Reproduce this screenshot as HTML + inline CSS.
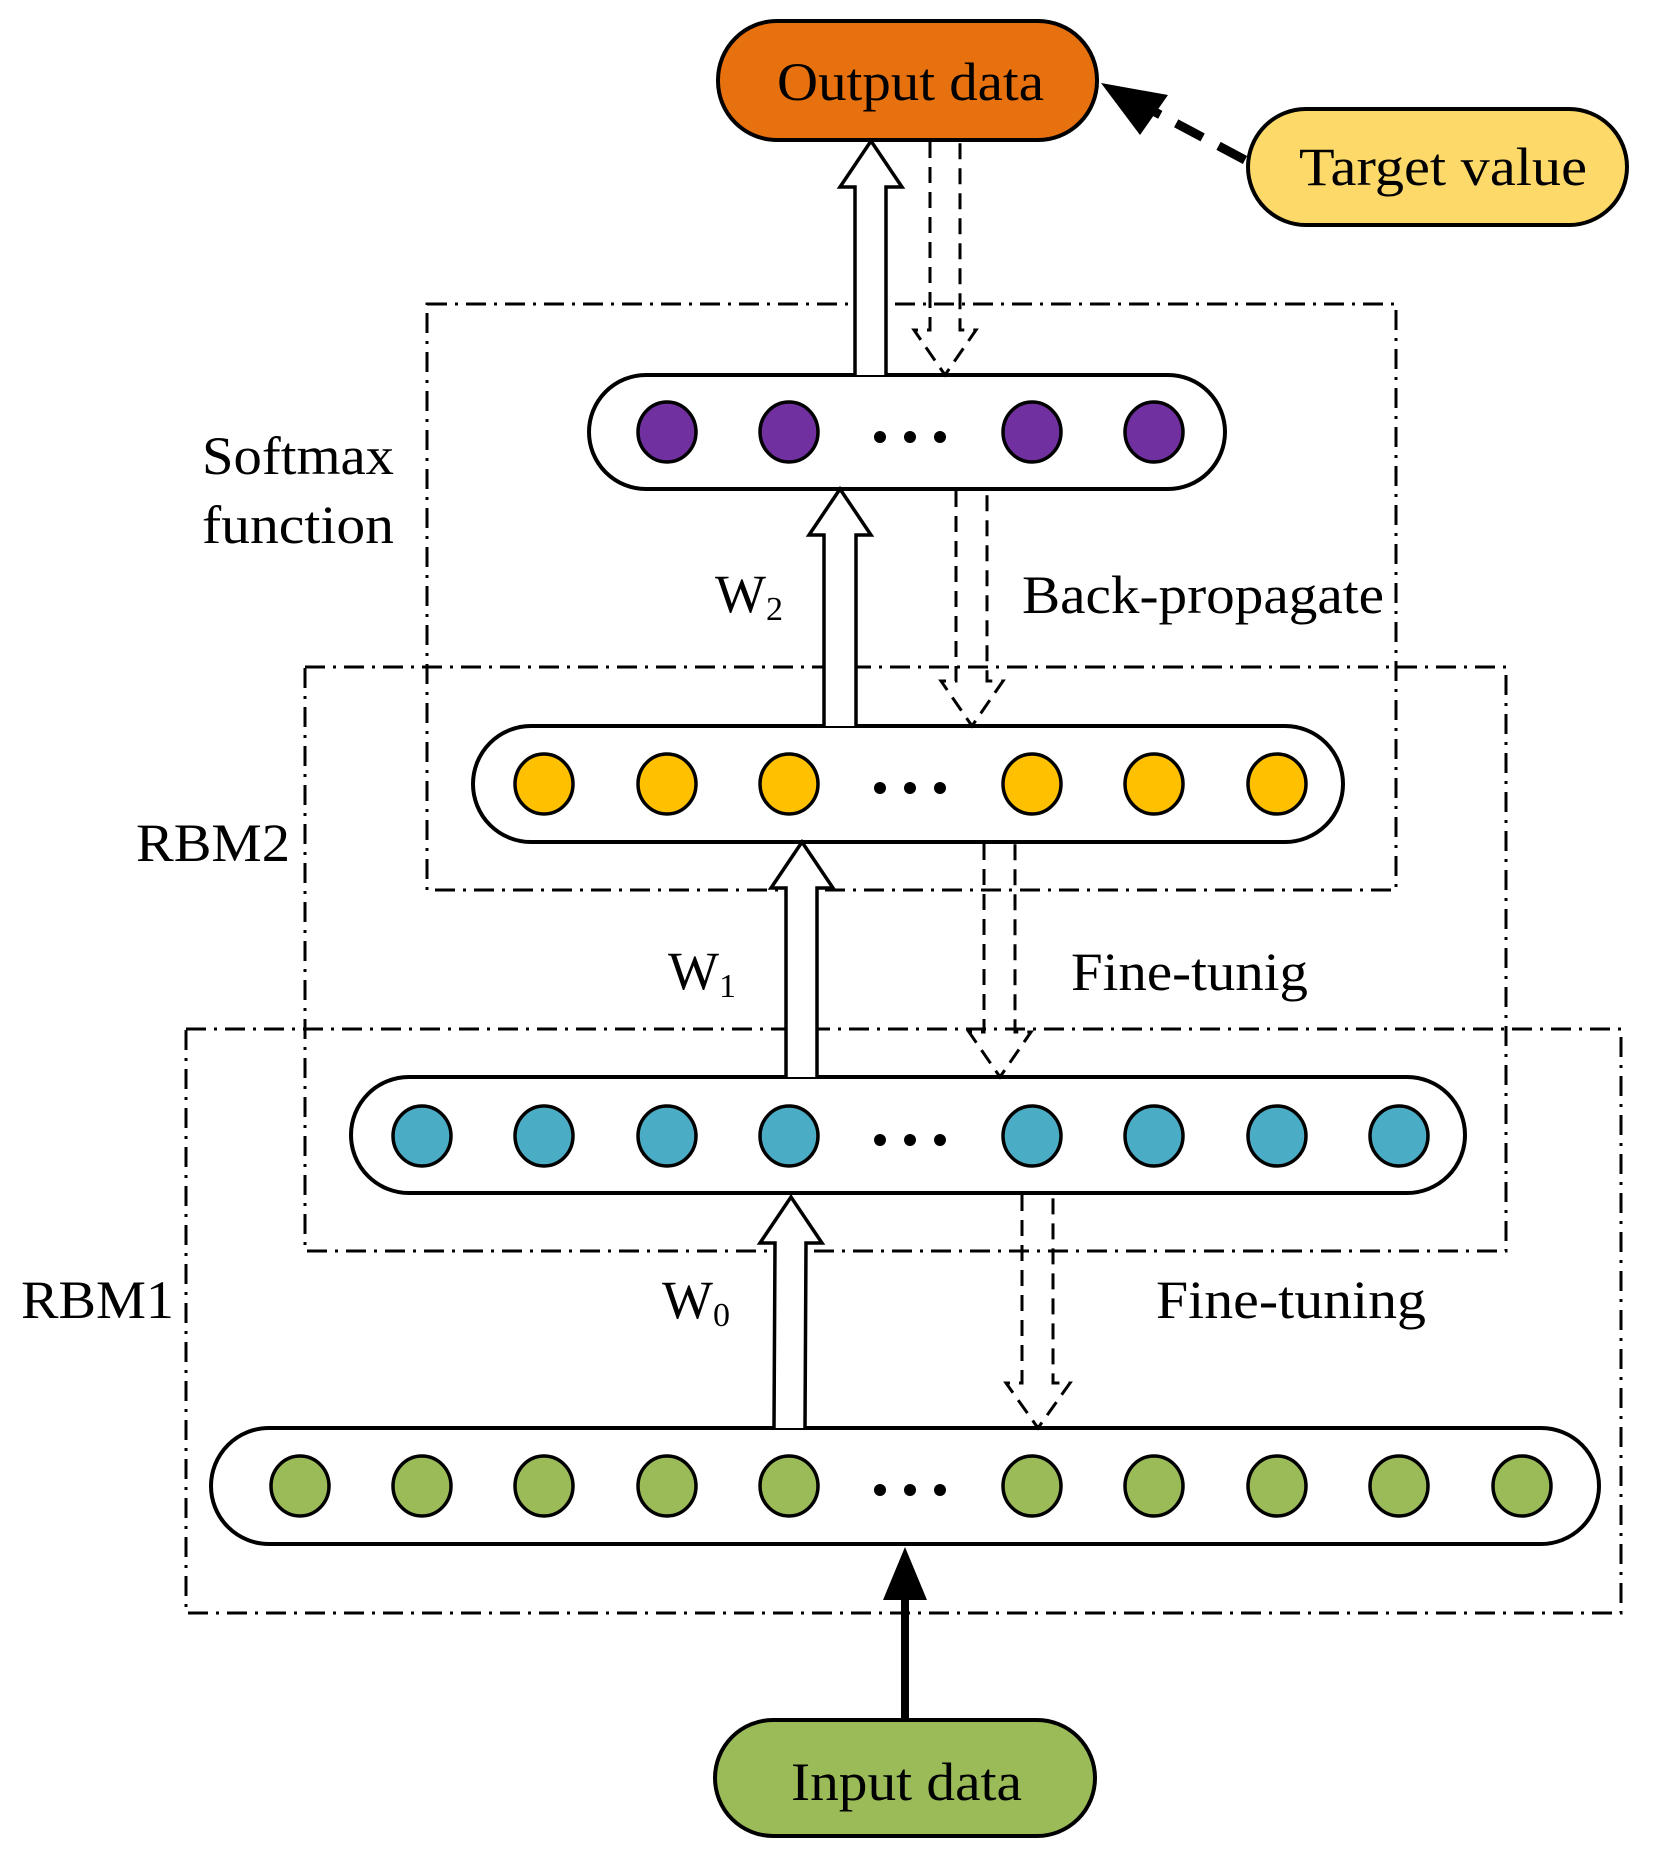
<!DOCTYPE html>
<html><head><meta charset="utf-8"><style>
html,body{margin:0;padding:0;background:#fff}
svg{display:block}
text{font-family:"Liberation Serif",serif;fill:#000}
</style></head><body>
<svg width="1672" height="1864" viewBox="0 0 1672 1864" xmlns="http://www.w3.org/2000/svg">
<defs>
<marker id="bh" markerWidth="10" markerHeight="10" refX="9" refY="5" orient="auto" markerUnits="userSpaceOnUse"></marker>
</defs>
<g fill="none" stroke="#000" stroke-width="3" stroke-dasharray="20 8 3 8">
<rect x="427" y="304" width="969" height="586"/>
<rect x="305" y="667" width="1201" height="584"/>
<rect x="186" y="1029" width="1435" height="584"/>
</g>
<!-- pills -->
<g stroke="#000" stroke-width="4">
<rect x="718" y="21" width="379" height="119" rx="59" fill="#E8710F"/>
<rect x="1248" y="109" width="379" height="116" rx="58" fill="#FDD96A"/>
<rect x="715" y="1720" width="380" height="116" rx="58" fill="#9BBB59"/>
<rect x="589" y="375" width="636" height="114" rx="57" fill="#fff"/>
<rect x="473" y="726" width="870" height="116" rx="58" fill="#fff"/>
<rect x="351" y="1077" width="1114" height="116" rx="58" fill="#fff"/>
<rect x="211" y="1428" width="1388" height="116" rx="58" fill="#fff"/>
</g>
<g stroke="#000" stroke-width="3.5">
<g fill="#7030A0"><ellipse cx="667" cy="432" rx="29" ry="30"/><ellipse cx="789" cy="432" rx="29" ry="30"/><ellipse cx="1032" cy="432" rx="29" ry="30"/><ellipse cx="1154" cy="432" rx="29" ry="30"/></g>
<g fill="#FFC000"><ellipse cx="544" cy="784" rx="29" ry="30"/><ellipse cx="667" cy="784" rx="29" ry="30"/><ellipse cx="789" cy="784" rx="29" ry="30"/><ellipse cx="1032" cy="784" rx="29" ry="30"/><ellipse cx="1154" cy="784" rx="29" ry="30"/><ellipse cx="1277" cy="784" rx="29" ry="30"/></g>
<g fill="#4BACC6"><ellipse cx="422" cy="1136" rx="29" ry="30"/><ellipse cx="544" cy="1136" rx="29" ry="30"/><ellipse cx="667" cy="1136" rx="29" ry="30"/><ellipse cx="789" cy="1136" rx="29" ry="30"/><ellipse cx="1032" cy="1136" rx="29" ry="30"/><ellipse cx="1154" cy="1136" rx="29" ry="30"/><ellipse cx="1277" cy="1136" rx="29" ry="30"/><ellipse cx="1399" cy="1136" rx="29" ry="30"/></g>
<g fill="#9BBB59"><ellipse cx="300" cy="1486" rx="29" ry="30"/><ellipse cx="422" cy="1486" rx="29" ry="30"/><ellipse cx="544" cy="1486" rx="29" ry="30"/><ellipse cx="667" cy="1486" rx="29" ry="30"/><ellipse cx="789" cy="1486" rx="29" ry="30"/><ellipse cx="1032" cy="1486" rx="29" ry="30"/><ellipse cx="1154" cy="1486" rx="29" ry="30"/><ellipse cx="1277" cy="1486" rx="29" ry="30"/><ellipse cx="1399" cy="1486" rx="29" ry="30"/><ellipse cx="1522" cy="1486" rx="29" ry="30"/></g>
</g>
<!-- dots -->
<g fill="#000">
<circle cx="880" cy="437" r="6"/><circle cx="910" cy="437" r="6"/><circle cx="940" cy="437" r="6"/>
<circle cx="880" cy="788" r="6"/><circle cx="910" cy="788" r="6"/><circle cx="940" cy="788" r="6"/>
<circle cx="880" cy="1140" r="6"/><circle cx="910" cy="1140" r="6"/><circle cx="940" cy="1140" r="6"/>
<circle cx="880" cy="1490" r="6"/><circle cx="910" cy="1490" r="6"/><circle cx="940" cy="1490" r="6"/>
</g>
<!-- hollow up arrows -->
<g fill="#fff" stroke="#000" stroke-width="3.5" stroke-linejoin="miter">
<path d="M855 375 L855 187 L840 187 L871 141 L902 187 L886 187 L886 375"/>
<path d="M824 726 L824 535 L809 535 L840 489 L871 535 L856 535 L856 726"/>
<path d="M786 1077 L786 888 L771 888 L802 842 L833 888 L817 888 L817 1077"/>
<path d="M774 1428 L775 1243 L760 1243 L791 1197 L822 1243 L806 1243 L805 1428"/>
</g>
<!-- dashed down arrows -->
<g fill="none" stroke="#000" stroke-width="3" stroke-dasharray="16 9">
<path d="M930 142 L930 330 L914 330 L945 375 L976 330 L960 330 L960 142"/>
<path d="M956 491 L956 681 L941 681 L972 726 L1003 681 L987 681 L987 491"/>
<path d="M984 844 L984 1032 L969 1032 L1000 1077 L1031 1032 L1015 1032 L1015 844"/>
<path d="M1022 1195 L1022 1383 L1006 1383 L1038 1428 L1070 1383 L1053 1383 L1053 1195"/>
</g>
<!-- solid input arrow -->
<line x1="905" y1="1720" x2="905" y2="1595" stroke="#000" stroke-width="8"/>
<polygon points="905,1547 883,1600 927,1600" fill="#000"/>
<!-- target dashed arrow -->
<line x1="1245" y1="160" x2="1140" y2="104" stroke="#000" stroke-width="9" stroke-dasharray="30 18"/>
<polygon points="1101,83 1168,95 1140,135" fill="#000"/>
<!-- labels -->
<g font-size="54">
<text x="777" y="100" textLength="267" lengthAdjust="spacingAndGlyphs">Output data</text>
<text x="1299" y="185" textLength="288" lengthAdjust="spacingAndGlyphs">Target value</text>
<text x="791" y="1800" textLength="231" lengthAdjust="spacingAndGlyphs">Input data</text>
<text x="202" y="474" textLength="192" lengthAdjust="spacingAndGlyphs">Softmax</text>
<text x="202" y="543" textLength="192" lengthAdjust="spacingAndGlyphs">function</text>
<text x="1022" y="613" textLength="362" lengthAdjust="spacingAndGlyphs">Back-propagate</text>
<text x="136" y="861" textLength="154" lengthAdjust="spacingAndGlyphs">RBM2</text>
<text x="1071" y="990" textLength="237" lengthAdjust="spacingAndGlyphs">Fine-tunig</text>
<text x="21" y="1318" textLength="153" lengthAdjust="spacingAndGlyphs">RBM1</text>
<text x="1156" y="1318" textLength="270" lengthAdjust="spacingAndGlyphs">Fine-tuning</text>
<text x="715" y="612">W<tspan font-size="34" dy="8">2</tspan></text>
<text x="668" y="989">W<tspan font-size="34" dy="8">1</tspan></text>
<text x="662" y="1318">W<tspan font-size="34" dy="8">0</tspan></text>
</g>
</svg>
</body></html>
